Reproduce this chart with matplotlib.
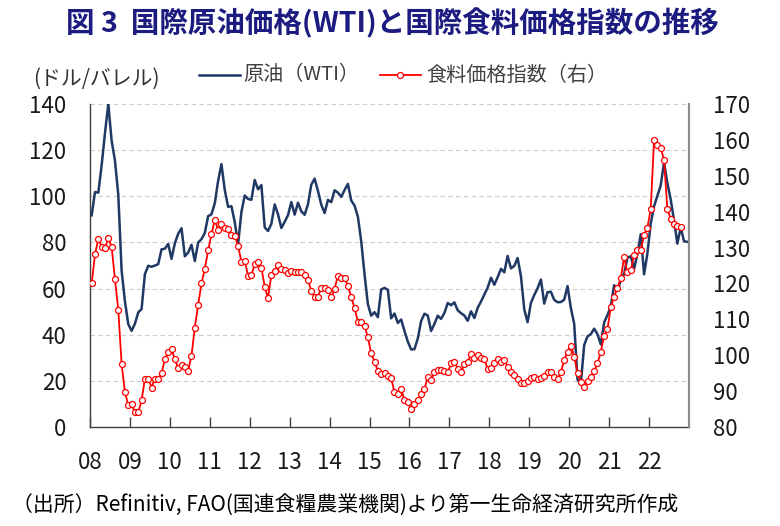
import numpy as np
import matplotlib
matplotlib.use("Agg")
import matplotlib.pyplot as plt
from matplotlib.lines import Line2D

plt.rcParams['font.family'] = ['Noto Sans CJK JP', 'DejaVu Sans']

# ---- data ----
year_labels = ['08', '09', '10', '11', '12', '13', '14', '15', '16', '17', '18', '19', '20', '21', '22']

wti = [
    91.75, 101.84, 101.58, 113.46, 127.35, 140.00, 124.08, 115.46, 100.64, 67.81, 54.43, 44.60,
    41.68, 44.76, 49.66, 51.12, 66.31, 69.89, 69.45, 69.96, 70.61, 77.00, 77.28, 79.36,
    72.89, 79.66, 83.76, 86.15, 73.97, 75.63, 78.95, 71.92, 79.97, 81.43, 84.11, 91.38,
    92.19, 96.97, 106.72, 113.93, 102.70, 95.42, 95.70, 88.81, 79.20, 93.19, 100.36, 98.83,
    98.48, 107.07, 103.02, 104.87, 86.53, 84.96, 88.06, 96.47, 92.19, 86.24, 88.91, 91.82,
    97.49, 92.05, 97.23, 93.46, 91.97, 96.56, 105.03, 107.65, 102.33, 96.38, 92.72, 98.42,
    97.49, 102.59, 101.58, 99.74, 102.71, 105.37, 98.17, 95.96, 91.16, 80.54, 66.15, 53.27,
    48.24, 49.76, 47.60, 59.63, 60.30, 59.47, 47.12, 49.20, 45.09, 46.59, 41.65, 37.04,
    33.62, 33.75, 38.34, 45.92, 49.10, 48.33, 41.60, 44.70, 48.24, 46.86, 49.44, 53.72,
    52.81, 54.01, 50.60, 49.33, 48.32, 46.04, 50.17, 47.23, 51.67, 54.38, 57.40, 60.42,
    64.73, 61.64, 64.94, 68.57, 67.04, 74.15, 68.76, 69.80, 73.25, 65.31, 50.93, 45.41,
    53.79, 57.22, 60.14, 63.91, 53.50, 58.47, 58.58, 55.10, 54.07, 54.18, 55.17, 61.06,
    51.56, 44.76, 20.48, 18.84, 35.49, 39.27, 40.27, 42.61, 40.22, 35.79, 45.34, 48.52,
    52.20, 61.50, 59.16, 63.58, 66.32, 73.47, 73.95, 68.50, 75.03, 83.57, 66.18, 75.21,
    88.15, 95.72, 100.28, 104.69, 114.67, 105.76, 98.62, 89.55, 79.49, 86.53, 80.55, 80.26,
]

food = [
    120.0, 128.1, 132.4, 130.2, 129.9, 132.6, 130.2, 121.2, 112.6, 97.6, 89.7, 86.1,
    86.3, 84.1, 84.1, 87.4, 93.5, 93.5, 91.0, 93.5, 93.3, 95.0, 98.9, 100.8,
    101.6, 98.9, 96.4, 97.2, 96.6, 95.7, 99.9, 107.7, 114.1, 120.0, 124.1, 129.2,
    133.7, 137.7, 134.9, 136.6, 135.4, 135.2, 133.4, 133.2, 130.5, 126.1, 126.3, 122.2,
    122.4, 125.3, 125.9, 124.4, 119.1, 115.9, 122.4, 123.5, 125.1, 124.0, 123.7, 122.8,
    123.5, 123.3, 123.1, 123.1, 122.4, 121.0, 117.9, 116.3, 116.3, 118.8, 118.8, 118.2,
    116.1, 118.5, 122.2, 121.4, 121.4, 119.4, 116.3, 113.1, 109.3, 109.3, 108.2, 105.0,
    100.5, 98.2, 95.6, 94.7, 95.0, 94.2, 93.6, 89.7, 89.1, 90.6, 87.5, 87.0,
    85.0, 86.3, 87.5, 89.1, 90.6, 94.0, 93.1, 95.4, 95.9, 95.9, 95.6, 95.2,
    97.7, 98.2, 96.2, 95.2, 97.5, 98.2, 100.3, 99.3, 100.1, 99.1, 98.9, 96.2,
    96.5, 97.7, 98.9, 98.2, 98.7, 96.8, 95.4, 94.5, 93.4, 92.2, 92.2, 92.8,
    93.7, 94.0, 93.5, 93.7, 94.3, 95.2, 95.2, 94.0, 93.4, 95.2, 98.7, 101.0,
    102.7, 99.6, 95.1, 92.6, 91.1, 92.9, 94.0, 95.6, 97.7, 101.0, 105.4, 107.3,
    113.3, 116.3, 118.8, 121.4, 127.3, 123.1, 123.7, 127.9, 129.3, 129.3, 133.5, 135.5,
    140.7, 160.0, 158.6, 157.8, 154.4, 140.7, 138.0, 136.5, 136.1, 135.7,
]

left_ticks = [0, 20, 40, 60, 80, 100, 120, 140]
right_ticks = [80, 90, 100, 110, 120, 130, 140, 150, 160, 170]

NAVY = '#1f3864'
RED = '#ff0000'
TXT = '#1a1a1a'

W, H = 780, 526
fig = plt.figure(figsize=(W / 100, H / 100), dpi=100)
ax = fig.add_axes([90 / W, 1 - 427 / H, 599 / W, 323 / H])
ax2 = ax.twinx()

x_wti = np.arange(len(wti)) + 0.5
x_food = np.arange(len(food)) + 0.5

ax.plot(x_wti, wti, color=NAVY, lw=1.8, solid_joinstyle='round', zorder=3)
ax2.plot(x_food, food, color=RED, lw=1.3, marker='o', markersize=4.3,
         markerfacecolor='white', markeredgecolor=RED, markeredgewidth=0.9, zorder=4)

ax.set_xlim(0, 180)
ax.set_ylim(0, 140)
ax2.set_ylim(80, 170)

ax.set_yticks(left_ticks)
ax.set_yticklabels([str(v) for v in left_ticks])
ax2.set_yticks(right_ticks)
ax2.set_yticklabels([str(v) for v in right_ticks])
ax.set_xticks(np.arange(0, 12 * len(year_labels), 12))
ax.set_xticklabels(year_labels)

ax.yaxis.grid(True, linestyle=(0, (4, 3)), color='#cccccc', lw=0.8)
ax.set_axisbelow(True)

for a in (ax, ax2):
    a.spines['top'].set_visible(False)
ax.spines['right'].set_visible(False)
ax2.spines['left'].set_visible(False)
ax2.spines['bottom'].set_visible(False)
ax.spines['left'].set_color('#404040')
ax.spines['left'].set_linewidth(1.0)
ax.spines['bottom'].set_color('#404040')
ax.spines['bottom'].set_linewidth(1.0)
ax2.spines['right'].set_color('#8c8c8c')
ax2.spines['right'].set_linewidth(1.6)

ax.tick_params(axis='y', length=0, pad=17, labelsize=16, labelcolor=TXT)
ax2.tick_params(axis='y', length=0, pad=17, labelsize=16, labelcolor=TXT)
ax.tick_params(axis='x', direction='in', length=7, width=1, color='#404040',
               pad=17, labelsize=16, labelcolor=TXT)

# title
fig.text(0.503, 1 - 23 / H, '図 3  国際原油価格(WTI)と国際食料価格指数の推移',
         ha='center', va='center', fontsize=20.5, fontweight='bold', color='#1c1c80')

# unit label
fig.text(33 / W, 1 - 79 / H, '(ドル/バレル)', ha='left', va='center',
         fontsize=15, color='#333333')

# legend
ly = 1 - 75 / H
fig.add_artist(Line2D([199 / W, 240 / W], [ly, ly], color=NAVY, lw=1.8))
fig.text(243 / W, ly, '原油（WTI）', ha='left', va='center', fontsize=14.5, color='#404040')
fig.add_artist(Line2D([380 / W, 421 / W], [ly, ly], color=RED, lw=1.3))
fig.add_artist(Line2D([400.5 / W], [ly], marker='o', markersize=4.3, markerfacecolor='white',
                      markeredgecolor=RED, markeredgewidth=0.9, color=RED))
fig.text(426 / W, ly, '食料価格指数（右）', ha='left', va='center', fontsize=14.5, color='#404040')

# source
fig.text(12 / W, 1 - 506 / H, '（出所）Refinitiv, FAO(国連食糧農業機関)より第一生命経済研究所作成',
         ha='left', va='center', fontsize=15, color='#000000')

fig.savefig('out.png', dpi=100)
